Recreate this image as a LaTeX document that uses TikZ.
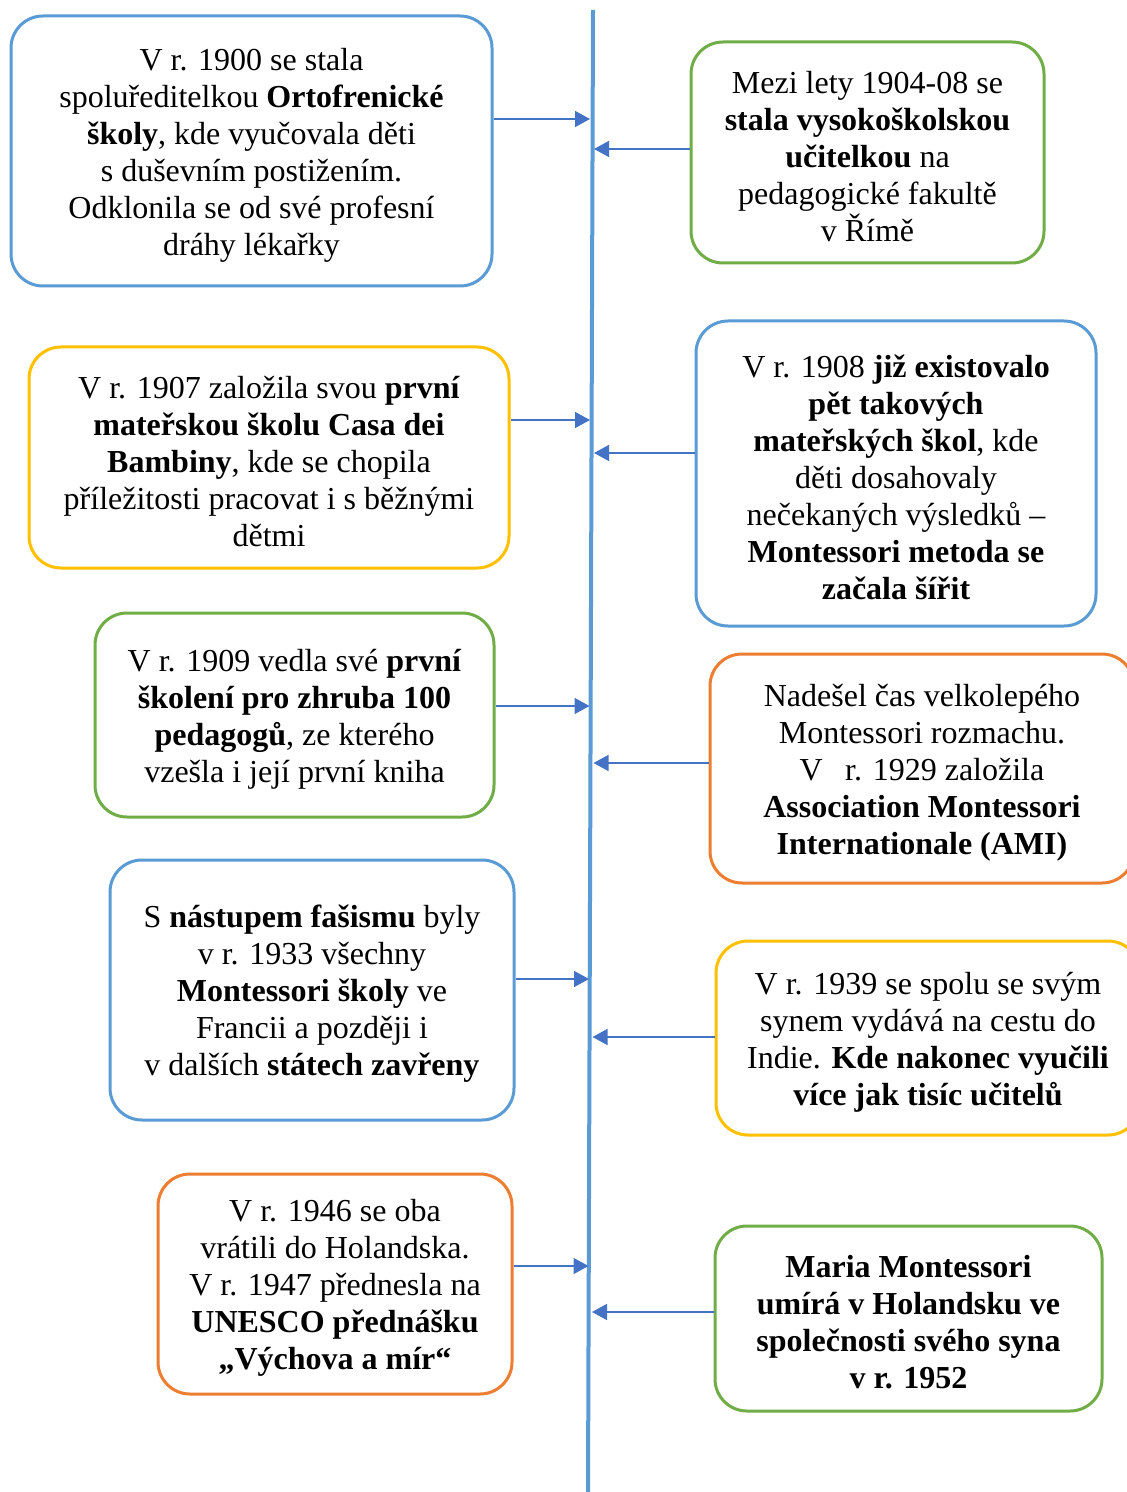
\documentclass[tikz,border=0pt]{standalone}
\usepackage{fontspec}
\setmainfont{Liberation Serif}
\usetikzlibrary{arrows.meta}
\definecolor{cblue}{HTML}{5B9BD5}
\definecolor{cgreen}{HTML}{70AD47}
\definecolor{cyellow}{HTML}{FFC000}
\definecolor{corange}{HTML}{ED7D31}
\definecolor{carrow}{HTML}{4472C4}
\newcommand\topstrut{\rule{0pt}{15pt}}
\begin{document}
\begin{tikzpicture}[x=0.5pt,y=-0.5pt,
  evbox/.style={draw=#1, line width=1.5pt, rounded corners=16pt, align=center,
    inner sep=0pt, font=\fontsize{16}{18.5}\selectfont, text=black},
  axis/.style={draw=cblue, line width=2pt},
  arr/.style={draw=carrow, line width=0.75pt, -{Triangle[length=7.5pt,width=8pt]}}]
\clip (0,0) rectangle (1127,1492);
\fill[white] (0,0) rectangle (1127,1492);
% axis
\coordinate (top) at (593,10);
\coordinate (bot) at (588,1492);
\draw[axis] (top) -- (bot);
% boxes
\node[evbox=cblue, minimum width=0.5*481pt, minimum height=0.5*270pt] (b1) at (251.5,151)
 {\topstrut V r. 1900 se stala\\ spoluředitelkou \textbf{Ortofrenické}\\ \textbf{školy}, kde vyučovala děti\\ s duševním postižením.\\ Odklonila se od své profesní\\ dráhy lékařky};
\node[evbox=cgreen, minimum width=0.5*353pt, minimum height=0.5*221pt] (b2) at (867.5,152.5)
 {\topstrut Mezi lety 1904-08 se\\ \textbf{stala vysokoškolskou}\\ \textbf{učitelkou} na\\ pedagogické fakultě\\ v Římě};
\node[evbox=cyellow, minimum width=0.5*480pt, minimum height=0.5*221pt] (b3) at (269,457.5)
 {\topstrut V r. 1907 založila svou \textbf{první}\\ \textbf{mateřskou školu Casa dei}\\ \textbf{Bambiny}, kde se chopila\\ příležitosti pracovat i s běžnými\\ dětmi};
\node[evbox=cblue, minimum width=0.5*400pt, minimum height=0.5*305pt] (b4) at (896,473.5)
 {\topstrut V r. 1908 \textbf{již existovalo}\\ \textbf{pět takových}\\ \textbf{mateřských škol}, kde\\ děti dosahovaly\\ nečekaných výsledků –\\ \textbf{Montessori metoda se}\\ \textbf{začala šířit}};
\node[evbox=cgreen, minimum width=0.5*399pt, minimum height=0.5*204pt] (b5) at (294.5,715)
 {\topstrut V r. 1909 vedla své \textbf{první}\\ \textbf{školení pro zhruba 100}\\ \textbf{pedagogů}, ze kterého\\ vzešla i její první kniha};
\node[evbox=corange, minimum width=0.5*424pt, minimum height=0.5*229pt] (b6) at (922,768.5)
 {\topstrut Nadešel čas velkolepého\\ Montessori rozmachu.\\ V\hspace{0.7em}r. 1929 založila\\ \textbf{Association Montessori}\\ \textbf{Internationale (AMI)}};
\node[evbox=cblue, minimum width=0.5*404pt, minimum height=0.5*260pt] (b7) at (312,990)
 {\topstrut S \textbf{nástupem fašismu} byly\\ v r. 1933 všechny\\ \textbf{Montessori školy} ve\\ Francii a později i\\ v dalších \textbf{státech zavřeny}};
\node[evbox=cyellow, minimum width=0.5*424pt, minimum height=0.5*194pt] (b8) at (928,1038)
 {\topstrut V r. 1939 se spolu se svým\\ synem vydává na cestu do\\ Indie. \textbf{Kde nakonec vyučili}\\ \textbf{více jak tisíc učitelů}};
\node[evbox=corange, minimum width=0.5*354pt, minimum height=0.5*220pt] (b9) at (335,1284)
 {\topstrut V r. 1946 se oba\\ vrátili do Holandska.\\ V r. 1947 přednesla na\\ \textbf{UNESCO přednášku}\\ \textbf{„Výchova a mír“}};
\node[evbox=cgreen, minimum width=0.5*387pt, minimum height=0.5*185pt] (b10) at (908.5,1318.5)
 {\topstrut\textbf{Maria Montessori}\\ \textbf{umírá v Holandsku ve}\\ \textbf{společnosti svého syna}\\ \textbf{v r. 1952}};
% arrow targets on the axis
\coordinate (a1) at (590,119);
\coordinate (a2) at (594,149);
\coordinate (a3) at (590,420);
\coordinate (a4) at (594,453);
\coordinate (a5) at (589.5,706);
\coordinate (a6) at (593.5,763);
\coordinate (a7) at (589,979);
\coordinate (a8) at (592.5,1037);
\coordinate (a9) at (588.5,1266);
\coordinate (a10) at (592,1312);
% connectors
\draw[arr] (b1.east |- a1) -- (a1);
\draw[arr] (b2.west |- a2) -- (a2);
\draw[arr] (b3.east |- a3) -- (a3);
\draw[arr] (b4.west |- a4) -- (a4);
\draw[arr] (b5.east |- a5) -- (a5);
\draw[arr] (b6.west |- a6) -- (a6);
\draw[arr] (b7.east |- a7) -- (a7);
\draw[arr] (b8.west |- a8) -- (a8);
\draw[arr] (b9.east |- a9) -- (a9);
\draw[arr] (b10.west |- a10) -- (a10);
\end{tikzpicture}
\end{document}
